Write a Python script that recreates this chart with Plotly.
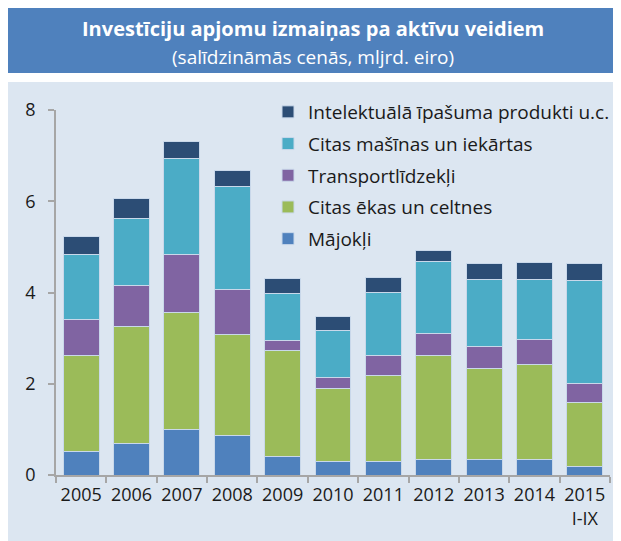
import plotly.graph_objects as go

years = ["2005", "2006", "2007", "2008", "2009", "2010", "2011", "2012", "2013", "2014", "2015<br>I-IX"]

majokli = [0.51, 0.69, 0.99, 0.86, 0.40, 0.29, 0.30, 0.34, 0.33, 0.33, 0.19]
citas_ekas = [2.10, 2.56, 2.58, 2.23, 2.33, 1.61, 1.87, 2.27, 2.00, 2.10, 1.39]
transports = [0.80, 0.91, 1.27, 0.97, 0.22, 0.24, 0.45, 0.50, 0.48, 0.53, 0.43]
masinas = [1.43, 1.46, 2.09, 2.26, 1.03, 1.03, 1.39, 1.56, 1.47, 1.33, 2.26]
intelekt = [0.39, 0.43, 0.37, 0.35, 0.33, 0.30, 0.31, 0.26, 0.35, 0.36, 0.36]

series_names = ["Mājokļi", "Citas ēkas un celtnes", "Transportlīdzekļi",
                "Citas mašīnas un iekārtas", "Intelektuālā īpašuma produkti u.c."]
series_values = [majokli, citas_ekas, transports, masinas, intelekt]
series_colors = ["#4f81bd", "#9bbb59", "#8064a2", "#4bacc6", "#2c4d75"]

y_ticks = [0, 2, 4, 6, 8]

FONT = "Open Sans"

fig = go.Figure()
n = len(series_names)
for i, (name, vals, col) in enumerate(zip(series_names, series_values, series_colors)):
    fig.add_trace(go.Bar(
        x=years, y=vals, name=name, legendgroup=f"g{i}", legendrank=100 + n - i,
        marker=dict(color=col, line=dict(color="#c9d8ea", width=1)),
        hoverinfo="skip",
    ))

# page body has an 8px margin: the figure is offset by 8px in the page
OFF = 8
W, H = 621 - OFF, 541 - OFF
L, R, T, B = 56 - OFF, 11, 110 - OFF, 66
pw, ph = W - L - R, H - T - B


def px_x(p):
    return (p - OFF - L) / pw


def px_y(p):
    return (H - B - (p - OFF)) / ph


shapes = [
    dict(type="rect", xref="paper", yref="paper", layer="below",
         x0=px_x(6), x1=px_x(621), y0=px_y(73), y1=px_y(7),
         fillcolor="#4f81bd", line=dict(width=0)),
    dict(type="rect", xref="paper", yref="paper", layer="below",
         x0=px_x(6), x1=px_x(621), y0=px_y(541), y1=px_y(82),
         fillcolor="#dce6f1", line=dict(width=0)),
]

annotations = [
    dict(text="<b>Investīciju apjomu izmaiņas pa aktīvu veidiem</b>",
         xref="paper", yref="paper", x=px_x(313), y=px_y(29),
         xanchor="center", yanchor="middle", showarrow=False,
         font=dict(family=FONT, size=20, color="white")),
    dict(text="(salīdzināmās cenās, mljrd. eiro)",
         xref="paper", yref="paper", x=px_x(313), y=px_y(57),
         xanchor="center", yanchor="middle", showarrow=False,
         font=dict(family=FONT, size=19, color="white")),
]

fig.update_layout(
    width=W, height=H,
    margin=dict(l=L, r=R, t=T, b=B, autoexpand=False),
    barmode="stack", bargap=0.286,
    paper_bgcolor="white", plot_bgcolor="rgba(0,0,0,0)",
    font=dict(family=FONT, size=16, color="#1a1a1a"),
    shapes=shapes, annotations=annotations,
    showlegend=True,
    legend=dict(
        traceorder="grouped", orientation="v",
        xref="container", yref="container",
        x=(268 - OFF) / W, xanchor="left", y=1 - (93 - OFF) / H, yanchor="top",
        bgcolor="rgba(0,0,0,0)", borderwidth=0,
        font=dict(family=FONT, size=19, color="#1a1a1a"),
        tracegroupgap=4, itemclick=False, itemdoubleclick=False,
    ),
    xaxis=dict(
        type="category", showgrid=False, zeroline=False, automargin=False,
        showline=True, linecolor="#a6a6a6", linewidth=1.5,
        ticks="outside", tickson="boundaries", ticklen=6, tickcolor="#a6a6a6",
        tickwidth=1.5, tickangle=0, ticklabelstandoff=3,
        tickfont=dict(family=FONT, size=18, color="#1a1a1a"),
        fixedrange=True,
    ),
    yaxis=dict(
        range=[0, 8], tickvals=y_ticks, ticktext=[str(v) for v in y_ticks],
        showgrid=False, zeroline=False, automargin=False,
        showline=True, linecolor="#a6a6a6", linewidth=1.5,
        ticks="outside", ticklen=6, tickcolor="#a6a6a6", tickwidth=1.5,
        ticklabelstandoff=9,
        tickfont=dict(family=FONT, size=18, color="#1a1a1a"),
        fixedrange=True,
    ),
)

fig.write_html("out.html")
